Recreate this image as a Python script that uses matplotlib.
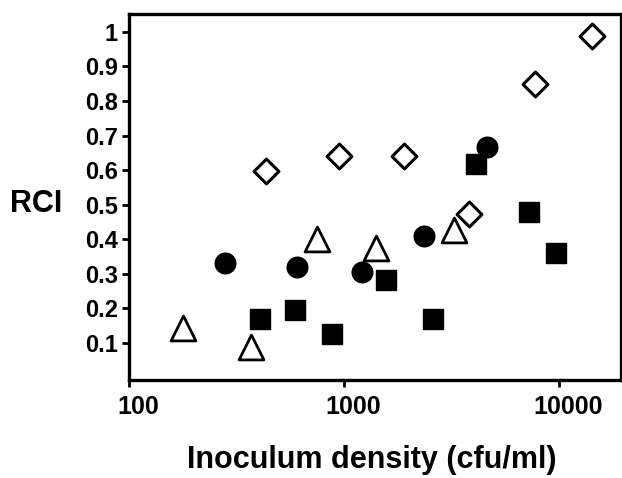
"""
RCI versus inoculum density, scatter on a log x axis.
"""
import matplotlib
matplotlib.use('Agg')
import matplotlib.pyplot as plt
from matplotlib.transforms import ScaledTranslation

# open diamonds
diamond_x = [437, 951, 1914, 3830, 7730, 14300]
diamond_y = [0.598, 0.642, 0.642, 0.472, 0.849, 0.988]

# filled circles
circle_x = [280, 604, 1217, 2350, 4650]
circle_y = [0.331, 0.321, 0.305, 0.410, 0.668]

# filled squares
square_x = [406, 596, 877, 1563, 2590, 4100, 7240, 9660]
square_y = [0.169, 0.195, 0.126, 0.282, 0.169, 0.618, 0.478, 0.361]

# open triangles
triangle_x = [178, 372, 749, 1419, 3260]
triangle_y = [0.143, 0.088, 0.400, 0.374, 0.427]

y_ticks = [0.1, 0.2, 0.3, 0.4, 0.5, 0.6, 0.7, 0.8, 0.9, 1.0]
y_tick_labels = ['0.1', '0.2', '0.3', '0.4', '0.5', '0.6', '0.7', '0.8', '0.9', '1']
x_ticks = [100, 1000, 10000]
x_tick_labels = ['100', '1000', '10000']

plt.rcParams['font.family'] = ['Liberation Sans', 'DejaVu Sans']
plt.rcParams['font.weight'] = 'bold'

fig = plt.figure(figsize=(6.22, 4.78), dpi=100)
ax = fig.add_axes([0.207, 0.205, 0.791, 0.766])

ax.scatter(diamond_x, diamond_y, marker='D', s=160, facecolors='white',
           edgecolors='black', linewidths=2.2, zorder=3)
ax.scatter(circle_x, circle_y, marker='o', s=220, color='black', zorder=3)
ax.scatter(square_x, square_y, marker='s', s=200, color='black', zorder=3)
ax.scatter(triangle_x, triangle_y, marker='^', s=320, facecolors='white',
           edgecolors='black', linewidths=2.0, zorder=3)

ax.set_xscale('log')
ax.set_xlim(100, 19400)
ax.set_ylim(-0.007, 1.052)
ax.set_xticks(x_ticks)
ax.set_xticklabels(x_tick_labels)
ax.xaxis.set_minor_locator(matplotlib.ticker.NullLocator())
ax.set_yticks(y_ticks)
ax.set_yticklabels(y_tick_labels)

for spine in ax.spines.values():
    spine.set_linewidth(2.4)
ax.tick_params(axis='y', width=2, length=5, labelsize=17, pad=3)
ax.tick_params(axis='x', width=2, length=5, labelsize=18, pad=6)

# labels in the original sit a little right of their ticks
shift = ScaledTranslation(9 / 100, 0, fig.dpi_scale_trans)
for lab in ax.get_xticklabels():
    lab.set_transform(lab.get_transform() + shift)

fig.text(372 / 622, 1 - 460 / 478, 'Inoculum density (cfu/ml)', fontsize=22,
         fontweight='bold', ha='center', va='center')
fig.text(36 / 622, 1 - 204 / 478, 'RCI', fontsize=22, fontweight='bold',
         ha='center', va='center')

fig.savefig('out.png', dpi=100)
